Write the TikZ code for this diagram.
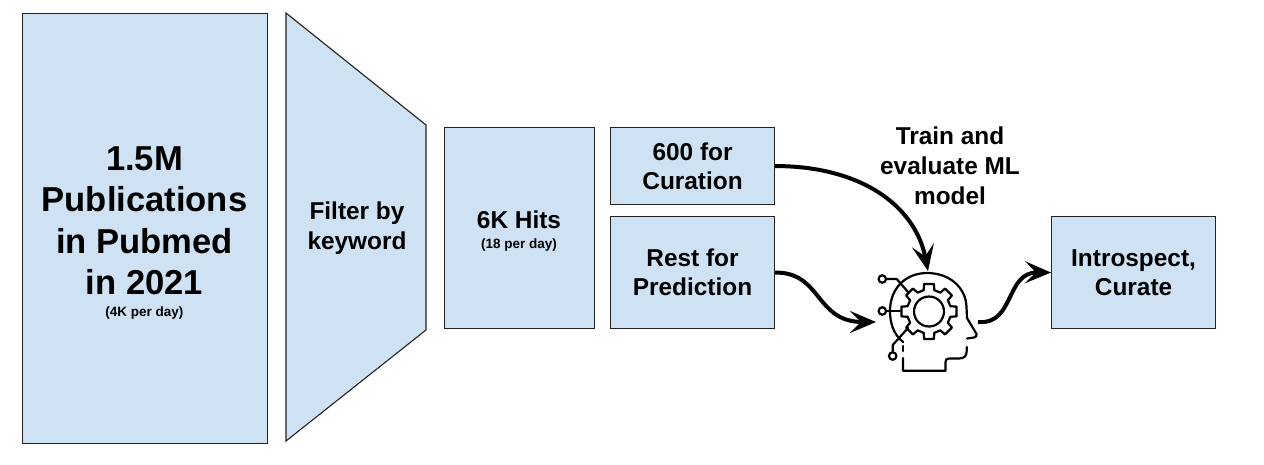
\documentclass[tikz,border=0pt]{standalone}
\usepackage{fontspec}
\setmainfont{Liberation Sans}
\usetikzlibrary{arrows.meta,shapes.geometric}
\definecolor{boxfill}{HTML}{CFE2F3}
\definecolor{boxline}{HTML}{222222}
\tikzset{
  panel/.style={draw=boxline,fill=boxfill,line width=1.1pt,inner sep=0pt,anchor=north west,align=center,font=\bfseries\fontsize{24.4}{29}\selectfont},
  label/.style={align=center,inner sep=0pt,font=\bfseries\fontsize{24.4}{30}\selectfont},
  flow/.style={line width=4pt,-{Stealth[length=26pt,width=22pt,inset=11pt]}},
  icon/.style={line width=2.2pt,line cap=round,line join=round,black}
}
\newcommand{\smalltxt}{\fontsize{13.5}{16}\selectfont}
\begin{document}
\begin{tikzpicture}[x=1pt,y=-1pt]
\useasboundingbox (0,0) rectangle (1264,464);
\node[panel,minimum width=245pt,minimum height=430pt] (pub) at (22,13) {};
\node[align=center,inner sep=0pt,font=\bfseries\fontsize{34.6}{41.3}\selectfont] (pubt) at (144.5,233) {1.5M\\Publications\\in Pubmed\\in 2021\\[-19pt]{\smalltxt (4K per day)}};
\draw[draw=boxline,fill=boxfill,line width=1.1pt] (286,13) -- (426,125) -- (426,330) -- (286,441) -- cycle;
\node[label] (filter) at (357,228.5) {Filter by\\keyword};
\node[panel,minimum width=150pt,minimum height=201pt] (hits) at (444,127) {};
\node[align=center,inner sep=0pt,font=\bfseries\fontsize{24.4}{26}\selectfont] (hitst) at (519,231.5) {6K Hits\\[-6pt]{\smalltxt (18 per day)}};
\node[panel,minimum width=164pt,minimum height=77pt] (cur) at (610,127) {600 for\\Curation};
\node[panel,minimum width=164pt,minimum height=112pt] (rest) at (610,216) {Rest for\\Prediction};
\node[panel,minimum width=164pt,minimum height=112pt] (intro) at (1051,216) {Introspect,\\Curate};
\node[label] (train) at (950,165.5) {Train and\\evaluate ML\\model};
% head icon
\coordinate (headtop) at (928,271);
\coordinate (headleft) at (876,322);
\coordinate (headright) at (978,322);
\draw[icon] (903,342) .. controls (893,334) and (890,322) .. (890,311)
  .. controls (890,288) and (906,273) .. (927,273)
  .. controls (950,273) and (966,288) .. (966.5,307)
  -- (967,318) -- (976.5,334) .. controls (977,336) and (976,337) .. (974,337.5) -- (967,338.5);
\draw[icon] (966.7,347) -- (966.7,351) .. controls (966.7,356) and (964,358.5) .. (959,358.5)
  -- (949,358.5) .. controls (946.5,358.5) and (945.5,360) .. (945.5,362) -- (945.5,370.7) -- (903,370.7) -- (903,358);
\draw[icon] (903,346) -- (903,351);
\begin{scope}[shift={(929,311.5)},icon]
  \draw (0,0) circle (15);
  \draw (-100:28)
    \foreach \a in {-90,-45,0,45,90,135,180,225}{
      -- (\a-10:28) -- (\a+10:28) -- (\a+14:22) -- (\a+31:22)
    } -- cycle;
\end{scope}
\node[icon,draw,circle,minimum size=7.5pt,inner sep=0pt] (c1) at (882.3,279) {};
\node[icon,draw,circle,minimum size=7.5pt,inner sep=0pt] (c2) at (882.3,311) {};
\node[icon,draw,circle,minimum size=7.5pt,inner sep=0pt] (c3) at (892.7,356) {};
\draw[icon] (c1.east) -- (896.7,279) -- (908,292);
\draw[icon] (c2.east) -- (901,311);
\draw[icon] (c3.north) -- (892.7,345) -- (908,328);
% connectors
\draw[flow] (cur.east) .. controls (860,166) and (915,205) .. (headtop);
\draw[flow] (rest.east) .. controls (822,272) and (815,322) .. (headleft);
\draw[flow] (headright) .. controls (1015,325) and (1005,272) .. (intro.west);
\end{tikzpicture}
\end{document}
